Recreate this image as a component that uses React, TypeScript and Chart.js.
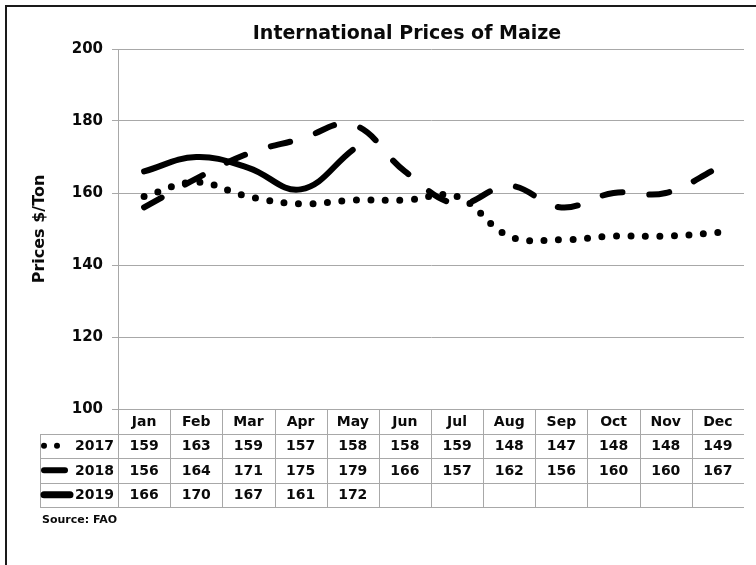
import React, { useEffect, useRef } from "react";
import { Chart, registerables } from "chart.js";

Chart.register(...registerables);

const months = ["Jan", "Feb", "Mar", "Apr", "May", "Jun", "Jul", "Aug", "Sep", "Oct", "Nov", "Dec"];
const yearLabels = ["2017", "2018", "2019"];
const prices2017 = [159, 163, 159, 157, 158, 158, 159, 148, 147, 148, 148, 149];
const prices2018 = [156, 164, 171, 175, 179, 166, 157, 162, 156, 160, 160, 167];
const prices2019 = [166, 170, 167, 161, 172];
const yMin = 100;
const yMax = 200;
const yStep = 20;
const chartTitle = "International Prices of Maize";
const yAxisTitle = "Prices $/Ton";
const sourceNote = "Source: FAO";

const FONT = "'DejaVu Sans', Verdana, sans-serif";
const TEXT = "#0a0a0a";
const GRID = "#a8a8a8";

const tablePlugin = {
  id: "dataTable",
  beforeDraw(chart: any) {
    const ctx = chart.ctx;
    ctx.save();
    ctx.fillStyle = "#ffffff";
    ctx.fillRect(0, 0, chart.width, chart.height);
    ctx.strokeStyle = "#1a1a1a";
    ctx.lineWidth = 2;
    ctx.beginPath();
    ctx.moveTo(6, chart.height + 5);
    ctx.lineTo(6, 6);
    ctx.lineTo(chart.width + 5, 6);
    ctx.stroke();
    ctx.restore();
  },
  afterDraw(chart: any) {
    const { ctx, chartArea, scales } = chart;
    const x = scales.x;
    const n = months.length;
    const colW = x.getPixelForValue(1) - x.getPixelForValue(0);
    const top = chartArea.bottom;
    const rowH = 24.5;
    const labelLeft = 40;
    const rows = [prices2017, prices2018, prices2019];
    const right = chartArea.right;

    ctx.save();
    // title
    ctx.fillStyle = TEXT;
    ctx.font = `bold 19px ${FONT}`;
    ctx.textAlign = "center";
    ctx.textBaseline = "alphabetic";
    ctx.fillText(chartTitle, 407, 39);

    // grid
    ctx.strokeStyle = GRID;
    ctx.lineWidth = 1;
    ctx.beginPath();
    for (let i = 0; i < n; i++) {
      const bx = Math.round(x.getPixelForValue(i) - colW / 2) + 0.5;
      ctx.moveTo(bx, top);
      ctx.lineTo(bx, top + 4 * rowH);
    }
    for (let r = 1; r <= 4; r++) {
      const by = Math.round(top + r * rowH) + 0.5;
      ctx.moveTo(labelLeft, by);
      ctx.lineTo(right, by);
    }
    ctx.moveTo(labelLeft + 0.5, Math.round(top + rowH));
    ctx.lineTo(labelLeft + 0.5, Math.round(top + 4 * rowH) + 1);
    ctx.stroke();

    // header
    ctx.fillStyle = TEXT;
    ctx.font = `bold 14px ${FONT}`;
    ctx.textAlign = "center";
    ctx.textBaseline = "middle";
    months.forEach((m, i) => {
      ctx.fillText(m, x.getPixelForValue(i), top + rowH / 2 + 1);
    });
    rows.forEach((vals, r) => {
      const cy = top + (r + 1) * rowH + rowH / 2 + 1;
      vals.forEach((v, i) => {
        ctx.fillText(String(v), x.getPixelForValue(i), cy);
      });
    });

    // row labels
    ctx.textAlign = "right";
    yearLabels.forEach((yl, r) => {
      const cy = top + (r + 1) * rowH + rowH / 2 + 1;
      ctx.fillText(yl, x.left - 4, cy);
    });
    // symbols
    ctx.fillStyle = "#000";
    ctx.strokeStyle = "#000";
    ctx.lineCap = "round";
    const c1 = top + rowH * 1.5;
    [44, 57].forEach((dx) => {
      ctx.beginPath();
      ctx.arc(dx, c1, 3, 0, Math.PI * 2);
      ctx.fill();
    });
    const c2 = top + rowH * 2.5;
    ctx.lineWidth = 6;
    ctx.beginPath();
    ctx.moveTo(44, c2);
    ctx.lineTo(65, c2);
    ctx.stroke();
    const c3 = top + rowH * 3.5;
    ctx.lineWidth = 7;
    ctx.beginPath();
    ctx.moveTo(44, c3);
    ctx.lineTo(70, c3);
    ctx.stroke();

    // source
    ctx.fillStyle = TEXT;
    ctx.font = `bold 11px ${FONT}`;
    ctx.textAlign = "left";
    ctx.textBaseline = "middle";
    ctx.fillText(sourceNote, 42, top + 4 * rowH + 13);
    ctx.restore();
  },
};

export default function App() {
  const ref = useRef<HTMLCanvasElement | null>(null);

  useEffect(() => {
    if (!ref.current) return;
    const chart = new Chart(ref.current, {
      type: "line",
      data: {
        labels: months,
        datasets: [
          {
            label: yearLabels[0],
            data: prices2017,
            borderColor: "#000",
            borderWidth: 7,
            borderDash: [0, 14.5],
            borderCapStyle: "round",
            tension: 0.4,
            pointRadius: 0,
            fill: false,
          },
          {
            label: yearLabels[1],
            data: prices2018,
            borderColor: "#000",
            borderWidth: 6,
            borderDash: [20, 27],
            borderCapStyle: "round",
            tension: 0.4,
            pointRadius: 0,
            fill: false,
          },
          {
            label: yearLabels[2],
            data: prices2019,
            borderColor: "#000",
            borderWidth: 6,
            borderCapStyle: "round",
            tension: 0.4,
            pointRadius: 0,
            fill: false,
          },
        ],
      },
      options: {
        responsive: false,
        animation: false,
        layout: { padding: { top: 49, right: 12, left: 0, bottom: 0 } },
        plugins: {
          legend: { display: false },
          title: { display: false },
          tooltip: { enabled: false },
        },
        scales: {
          x: {
            type: "category",
            offset: true,
            grid: { display: false },
            border: { display: false },
            ticks: { display: false },
            afterFit: (s: any) => {
              s.height = 156;
            },
          },
          y: {
            min: yMin,
            max: yMax,
            ticks: {
              stepSize: yStep,
              color: TEXT,
              padding: 9,
              font: { family: FONT, size: 15, weight: "bold" },
            },
            grid: { color: GRID, tickLength: 6, lineWidth: 1 },
            border: { display: true, color: GRID },
            title: {
              display: true,
              text: yAxisTitle,
              color: TEXT,
              font: { family: FONT, size: 16, weight: "bold" },
              padding: { top: 30, bottom: 0 },
            },
            afterFit: (s: any) => {
              s.width = 118;
            },
          },
        },
      },
      plugins: [tablePlugin],
    } as any);
    return () => chart.destroy();
  }, []);

  return (
    <div style={{ position: "absolute", left: 0, top: 0, width: 756, height: 565, background: "#fff" }}>
      <canvas ref={ref} width={756} height={565} style={{ display: "block" }} />
    </div>
  );
}
